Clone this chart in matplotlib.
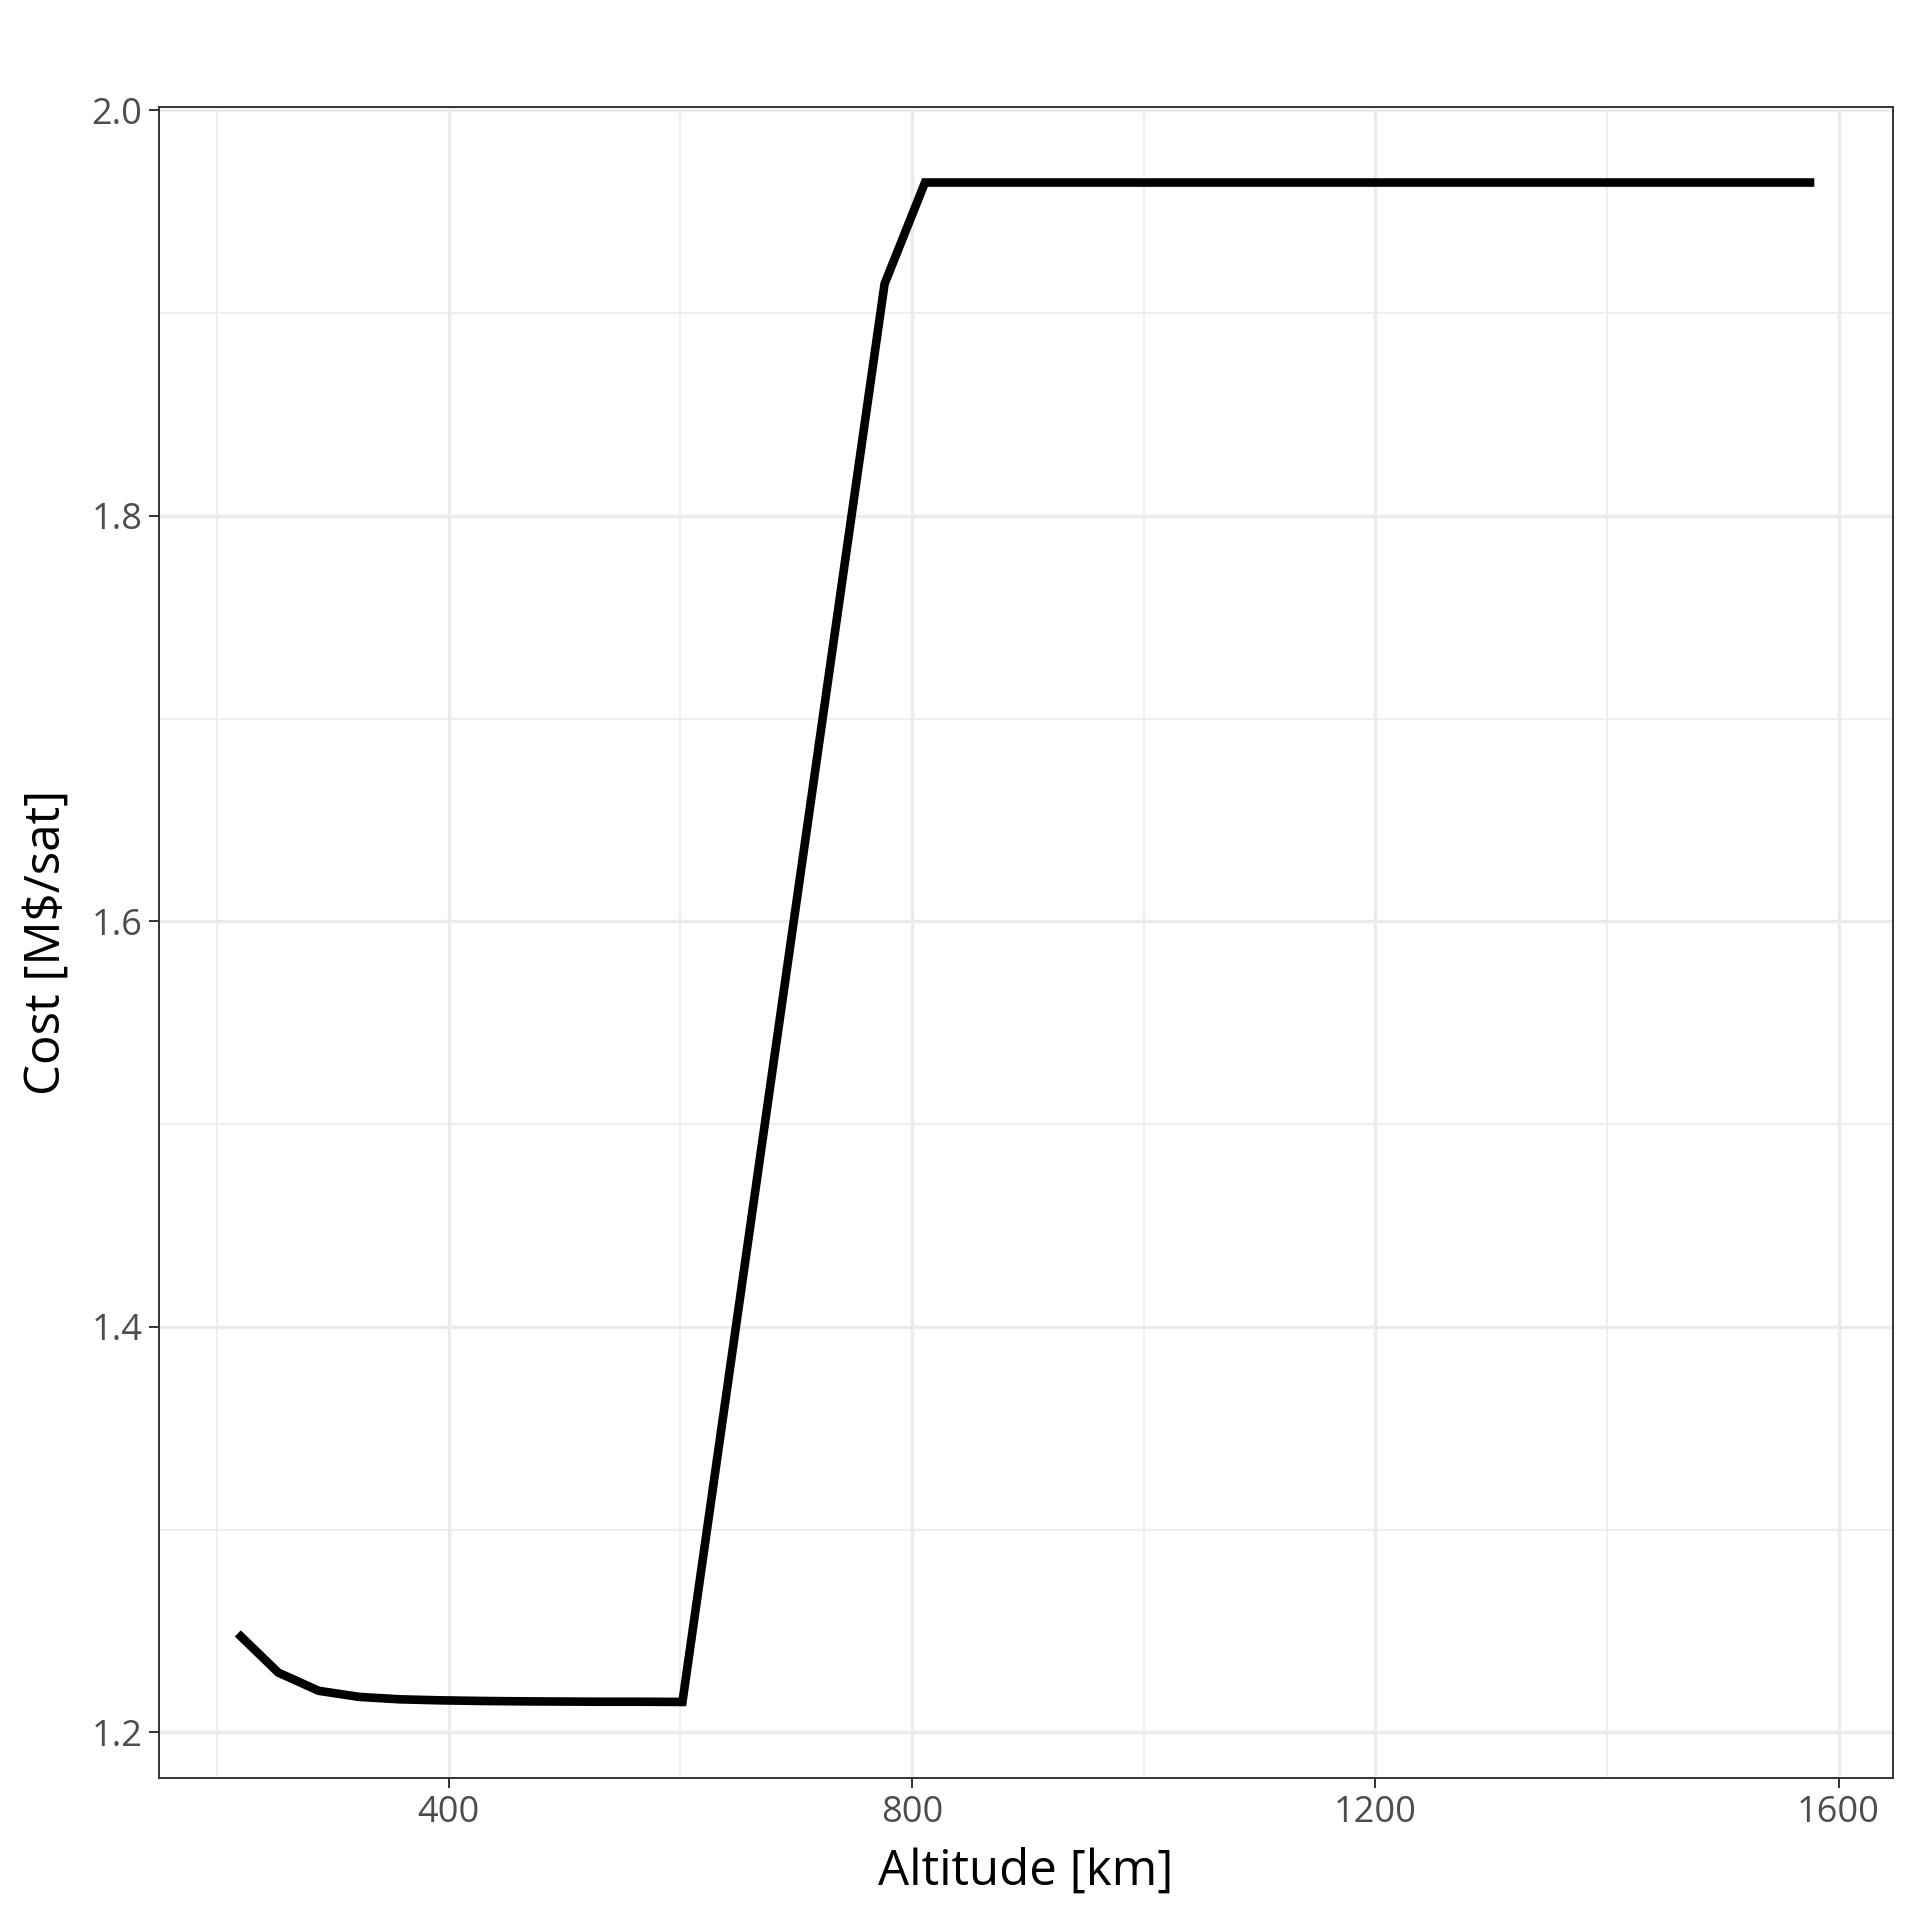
import numpy as np
import matplotlib
matplotlib.use("Agg")
import matplotlib.pyplot as plt
from matplotlib.ticker import MultipleLocator

# altitude grid [km] and cost per satellite [M$]
altitude = 218 + 34.9 * np.arange(40)
cost = [1.2488, 1.2295, 1.2205, 1.2175, 1.2163, 1.2158, 1.2155, 1.2153,
        1.2152, 1.2151, 1.2151, 1.2150, 1.3549, 1.4948, 1.6346, 1.7745,
        1.9144] + [1.9644] * 23

plt.rcParams['font.family'] = ['Open Sans', 'DejaVu Sans']

fig = plt.figure(figsize=(19.2, 19.2), dpi=100)
ax = fig.add_axes([0.0828, 0.074, 0.9032, 0.8705])

ax.plot(altitude, cost, color="black", lw=6.2, solid_joinstyle="miter",
        solid_capstyle="butt")

span_x = altitude.max() - altitude.min()
ax.set_xlim(altitude.min() - 0.05 * span_x, altitude.max() + 0.05 * span_x)
span_y = max(cost) - min(cost)
ax.set_ylim(min(cost) - 0.05 * span_y, max(cost) + 0.05 * span_y)

ax.xaxis.set_major_locator(MultipleLocator(400))
ax.xaxis.set_minor_locator(MultipleLocator(200))
ax.yaxis.set_major_locator(MultipleLocator(0.2))
ax.yaxis.set_minor_locator(MultipleLocator(0.1))
ax.yaxis.set_major_formatter(matplotlib.ticker.FormatStrFormatter('%.1f'))

ax.grid(which="major", color="#EBEBEB", lw=2.4)
ax.grid(which="minor", color="#EBEBEB", lw=1.2)
ax.set_axisbelow(True)

for s in ax.spines.values():
    s.set_color("#333333")
    s.set_linewidth(1.4)

ax.tick_params(which="major", length=7, width=1.4, color="#333333",
               labelsize=26, labelcolor="#4D4D4D", pad=5)
ax.tick_params(which="minor", length=0)

ax.set_xlabel("Altitude [km]", fontsize=35.5, color="black", labelpad=12)
ax.set_ylabel("Cost [M$/sat]", fontsize=35.5, color="black", labelpad=14)

fig.savefig("out.png", dpi=100)
